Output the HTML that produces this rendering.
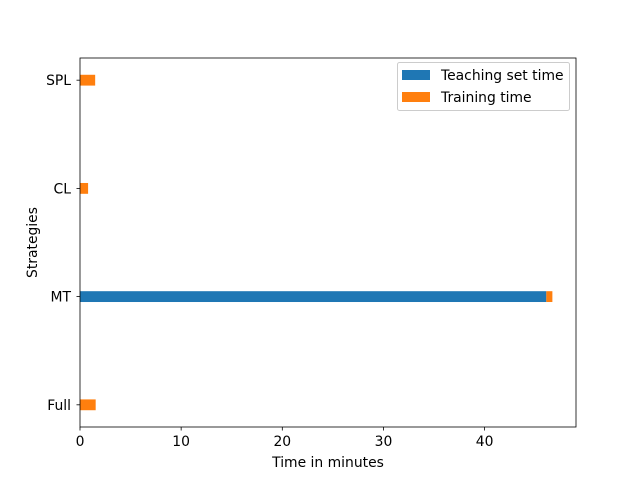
<!DOCTYPE html>
<html><head><meta charset="utf-8"><style>body{margin:0;background:#fff}svg{display:block;font-family:"DejaVu Sans","Liberation Sans",sans-serif}</style></head>
<body>
<svg id="chart" width="640" height="480" viewBox="0 0 640 480" xmlns="http://www.w3.org/2000/svg">
<rect width="640" height="480" fill="#fff"/>
<g id="plot"></g>
</svg>
<script>
const categories = ["Full","MT","CL","SPL"];
const teachingTime = [0, 46.1, 0, 0];
const trainingTime = [1.55, 0.6, 0.8, 1.5];
const xTicks = [0,10,20,30,40];
const seriesNames = ["Teaching set time","Training time"];

const L=80, R=576, T=58, B=427;
const FS=13.9;
const total = categories.map((c,i)=>teachingTime[i]+trainingTime[i]);
const xMax = Math.max(...total)*1.05;
const yMin=-0.205, yMax=categories.length-1+0.205;
const xs = v => L + v/xMax*(R-L);
const ys = v => B - (v-yMin)/(yMax-yMin)*(B-T);
const NS="http://www.w3.org/2000/svg";
const g=document.getElementById('plot');
function mk(tag,attrs,parent){const e=document.createElementNS(NS,tag);for(const k in attrs)e.setAttribute(k,attrs[k]);(parent||g).appendChild(e);return e;}
const bh = 0.1*(B-T)/(yMax-yMin);
categories.forEach((c,i)=>{
  const y=ys(i);
  const b1=mk('rect',{x:xs(0),y:y-bh/2,width:xs(teachingTime[i])-xs(0),height:bh,fill:'#1f77b4'});
  
  
  const b2=mk('rect',{x:xs(teachingTime[i]),y:y-bh/2,width:xs(teachingTime[i]+trainingTime[i])-xs(teachingTime[i]),height:bh,fill:'#ff7f0e'});
  
  
  const tk=mk('line',{x1:L-3.5,x2:L,y1:y,y2:y,stroke:'#000','stroke-width':0.8});
  
  
  const tl=mk('text',{x:L-9,y:y+5,'text-anchor':'end','font-size':FS});
  tl.textContent=c;
  
  
});
xTicks.forEach(v=>{
  const x=xs(v);
  const tk=mk('line',{x1:x,x2:x,y1:B,y2:B+3.5,stroke:'#000','stroke-width':0.8});
  
  
  const tl=mk('text',{x:x,y:B+19,'text-anchor':'middle','font-size':FS});
  tl.textContent=v;
  
  
});
const fr=mk('rect',{x:L,y:T,width:R-L,height:B-T,fill:'none',stroke:'#000','stroke-width':0.8});


const xt=mk('text',{x:(L+R)/2,y:467,'text-anchor':'middle','font-size':FS});
xt.textContent='Time in minutes';


const yt=mk('text',{x:0,y:0,'text-anchor':'middle','font-size':FS,transform:`translate(37,${(T+B)/2}) rotate(-90)`});
yt.textContent='Strategies';


const lg=mk('g',{});


mk('rect',{x:397.5,y:62.5,width:172,height:48,rx:2,fill:'#fff',stroke:'#ccc','stroke-width':1},lg);
const colors=['#1f77b4','#ff7f0e'];
seriesNames.forEach((n,i)=>{
  const e=mk('g',{},lg);
  
  
  mk('rect',{x:402,y:70+i*22,width:28,height:10,fill:colors[i]},e);
  const t=mk('text',{x:441,y:80+i*22,'font-size':FS},e);
  t.textContent=n;
});
</script>
</body></html>
